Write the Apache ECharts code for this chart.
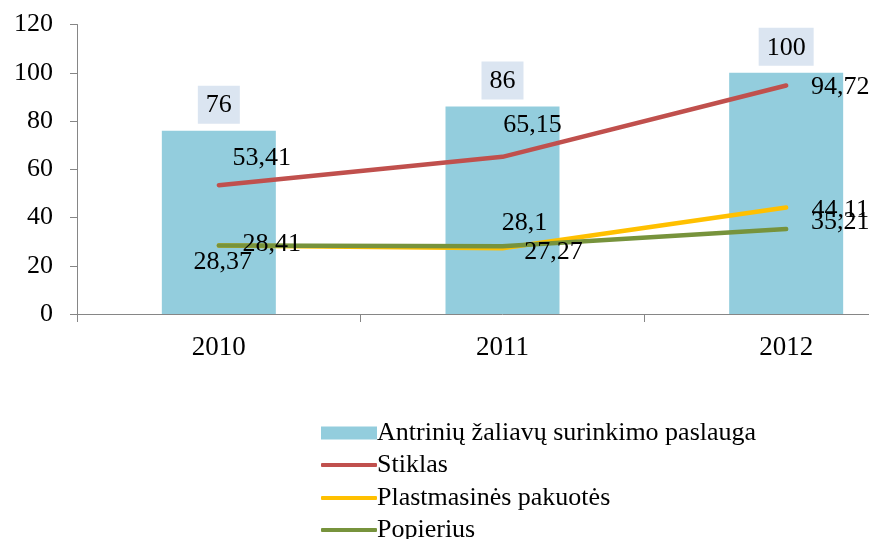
<!DOCTYPE html>
<html>
<head>
<meta charset="utf-8">
<script src="https://cdn.jsdelivr.net/npm/echarts@6/dist/echarts.min.js"></script>
<style>
  html, body { margin: 0; padding: 0; background: #fff; overflow: hidden; }
  #main { width: 928px; height: 539px; }
</style>
</head>
<body>
<div id="main"></div>
<script>
var years = ['2010', '2011', '2012'];
var paslauga = [76, 86, 100];
var stiklas = [53.41, 65.15, 94.72];
var plastmase = [28.37, 27.27, 44.11];
var popierius = [28.41, 28.1, 35.21];
var yTicks = [0, 20, 40, 60, 80, 100, 120];
var seriesNames = ['Antrinių žaliavų surinkimo paslauga', 'Stiklas', 'Plastmasinės pakuotės', 'Popierius'];

// label offsets (px) around each point
var offStiklas = [[43, -27], [30, -32], [54, 2]];
var offPlast = [[4, 17], [51, 4], [54, 3]];
var offPop = [[53, -1], [22, -23], [54, -7]];

var serif = '"Liberation Serif", "Times New Roman", serif';

function fmt(v) {
  return String(v).replace('.', ',');
}

function lineData(vals, offs) {
  return vals.map(function(v, i) {
    return { value: v, label: { offset: offs[i] } };
  });
}

function lineSeries(name, vals, offs, color) {
  return {
    name: name,
    type: 'line',
    data: lineData(vals, offs),
    symbol: 'circle',
    symbolSize: 0.1,
    itemStyle: { color: color },
    lineStyle: { color: color, width: 4.5, cap: 'round' },
    z: 5,
    label: {
      show: true,
      position: 'inside',
      align: 'center',
      verticalAlign: 'middle',
      color: '#000',
      fontFamily: serif,
      fontSize: 26,
      formatter: function(p) { return fmt(p.value); }
    }
  };
}

// one legend block per row
function legendRow(name, top, h, icon) {
  return {
    orient: 'vertical',
    left: 316,
    top: top,
    itemWidth: 56,
    itemHeight: h,
    itemGap: 0,
    icon: icon,
    data: [name],
    textStyle: { fontFamily: serif, fontSize: 26, color: '#000', padding: [0, 0, 0, -5] }
  };
}

var chart = echarts.init(document.getElementById('main'));

var option = {
  animation: false,
  grid: { left: 77, right: 0, top: 24.5, bottom: 225 },
  legend: [
    legendRow(seriesNames[0], 415, 13, 'rect'),
    legendRow(seriesNames[1], 447, 4, 'roundRect'),
    legendRow(seriesNames[2], 480, 4, 'roundRect'),
    legendRow(seriesNames[3], 512, 4, 'roundRect')
  ],
  xAxis: {
    type: 'category',
    data: years,
    axisLine: { lineStyle: { color: '#868686', width: 1 } },
    axisTick: { show: true, length: 8, lineStyle: { color: '#868686' } },
    axisLabel: { color: '#000', fontFamily: serif, fontSize: 27, margin: 20 }
  },
  yAxis: {
    type: 'value',
    min: yTicks[0],
    max: yTicks[yTicks.length - 1],
    interval: yTicks[1] - yTicks[0],
    splitLine: { show: false },
    axisLine: { show: true, lineStyle: { color: '#868686', width: 1 } },
    axisTick: { show: true, length: 7, lineStyle: { color: '#868686' } },
    axisLabel: { color: '#000', fontFamily: serif, fontSize: 26, margin: 24 }
  },
  series: [
    {
      name: seriesNames[0],
      type: 'bar',
      data: paslauga,
      barWidth: 114,
      itemStyle: { color: '#93CDDD' },
      label: {
        show: true,
        position: 'top',
        distance: 7,
        backgroundColor: '#DBE5F1',
        padding: [7, 8, 5, 8],
        color: '#000',
        fontFamily: serif,
        fontSize: 26
      }
    },
    lineSeries(seriesNames[1], stiklas, offStiklas, '#C0504D'),
    lineSeries(seriesNames[2], plastmase, offPlast, '#FFC000'),
    lineSeries(seriesNames[3], popierius, offPop, '#77933C')
  ]
};

chart.setOption(option);
</script>
</body>
</html>
